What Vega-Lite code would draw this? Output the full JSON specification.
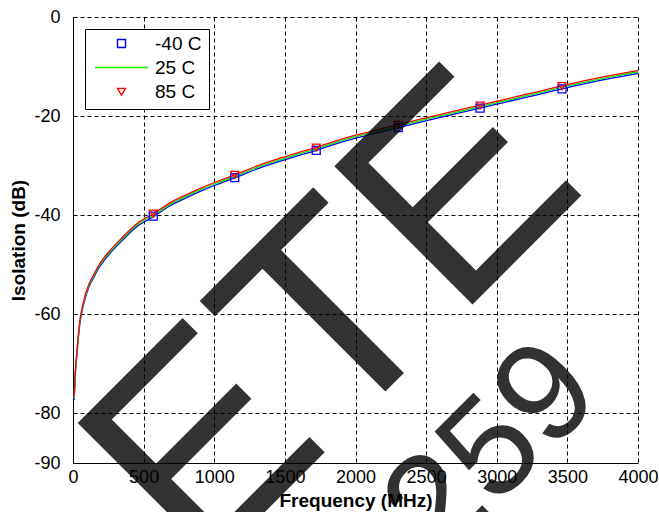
{
  "$schema": "https://vega.github.io/schema/vega-lite/v6.json",
  "width": 565,
  "height": 446,
  "autosize": {"type": "none"},
  "padding": {"left": 73, "top": 17, "right": 21, "bottom": 49},
  "background": "white",
  "config": {
    "view": {"stroke": null},
    "font": "Liberation Sans",
    "axis": {
      "domainColor": "black",
      "domainWidth": 1,
      "gridColor": "black",
      "gridDash": [4, 3],
      "gridWidth": 1,
      "gridOpacity": 1,
      "labelColor": "black",
      "labelFont": "Liberation Sans",
      "labelFontSize": 18,
      "labelFlush": false,
      "labelOverlap": false,
      "ticks": false,
      "titleColor": "black",
      "titleFont": "Liberation Sans",
      "titleFontSize": 19,
      "titleFontWeight": "bold"
    }
  },
  "datasets": {
    "curves": [
      {"f": 8, "dB": -77.3, "series": "-40 C"}, {"f": 12, "dB": -74.8, "series": "-40 C"}, {"f": 16, "dB": -72.3, "series": "-40 C"}, {"f": 20, "dB": -70.6, "series": "-40 C"}, {"f": 26, "dB": -68.6, "series": "-40 C"}, {"f": 35, "dB": -65.6, "series": "-40 C"}, {"f": 50, "dB": -61.6, "series": "-40 C"}, {"f": 70, "dB": -58.6, "series": "-40 C"}, {"f": 85, "dB": -56.9, "series": "-40 C"}, {"f": 110, "dB": -54.7, "series": "-40 C"}, {"f": 144, "dB": -52.7, "series": "-40 C"}, {"f": 191, "dB": -50.3, "series": "-40 C"}, {"f": 262, "dB": -47.7, "series": "-40 C"}, {"f": 345, "dB": -45.2, "series": "-40 C"}, {"f": 451, "dB": -42.3, "series": "-40 C"}, {"f": 569, "dB": -40.3, "series": "-40 C"}, {"f": 687, "dB": -38.1, "series": "-40 C"}, {"f": 800, "dB": -36.5, "series": "-40 C"}, {"f": 900, "dB": -35.2, "series": "-40 C"}, {"f": 1000, "dB": -34.0, "series": "-40 C"}, {"f": 1142, "dB": -32.5, "series": "-40 C"}, {"f": 1300, "dB": -30.7, "series": "-40 C"}, {"f": 1466, "dB": -29.1, "series": "-40 C"}, {"f": 1600, "dB": -27.9, "series": "-40 C"}, {"f": 1725, "dB": -26.9, "series": "-40 C"}, {"f": 1850, "dB": -25.7, "series": "-40 C"}, {"f": 2008, "dB": -24.4, "series": "-40 C"}, {"f": 2150, "dB": -23.4, "series": "-40 C"}, {"f": 2303, "dB": -22.3, "series": "-40 C"}, {"f": 2504, "dB": -20.9, "series": "-40 C"}, {"f": 2700, "dB": -19.6, "series": "-40 C"}, {"f": 2882, "dB": -18.4, "series": "-40 C"}, {"f": 3000, "dB": -17.6, "series": "-40 C"}, {"f": 3118, "dB": -16.8, "series": "-40 C"}, {"f": 3300, "dB": -15.6, "series": "-40 C"}, {"f": 3460, "dB": -14.5, "series": "-40 C"}, {"f": 3650, "dB": -13.3, "series": "-40 C"}, {"f": 3825, "dB": -12.3, "series": "-40 C"}, {"f": 4000, "dB": -11.4, "series": "-40 C"},
      {"f": 8, "dB": -77.0, "series": "25 C"}, {"f": 12, "dB": -74.5, "series": "25 C"}, {"f": 16, "dB": -72.0, "series": "25 C"}, {"f": 20, "dB": -70.3, "series": "25 C"}, {"f": 26, "dB": -68.3, "series": "25 C"}, {"f": 35, "dB": -65.3, "series": "25 C"}, {"f": 50, "dB": -61.3, "series": "25 C"}, {"f": 70, "dB": -58.3, "series": "25 C"}, {"f": 85, "dB": -56.6, "series": "25 C"}, {"f": 110, "dB": -54.4, "series": "25 C"}, {"f": 144, "dB": -52.4, "series": "25 C"}, {"f": 191, "dB": -50.0, "series": "25 C"}, {"f": 262, "dB": -47.4, "series": "25 C"}, {"f": 345, "dB": -44.9, "series": "25 C"}, {"f": 451, "dB": -42.0, "series": "25 C"}, {"f": 569, "dB": -40.0, "series": "25 C"}, {"f": 687, "dB": -37.8, "series": "25 C"}, {"f": 800, "dB": -36.2, "series": "25 C"}, {"f": 900, "dB": -34.9, "series": "25 C"}, {"f": 1000, "dB": -33.7, "series": "25 C"}, {"f": 1142, "dB": -32.2, "series": "25 C"}, {"f": 1300, "dB": -30.4, "series": "25 C"}, {"f": 1466, "dB": -28.8, "series": "25 C"}, {"f": 1600, "dB": -27.6, "series": "25 C"}, {"f": 1725, "dB": -26.6, "series": "25 C"}, {"f": 1850, "dB": -25.4, "series": "25 C"}, {"f": 2008, "dB": -24.1, "series": "25 C"}, {"f": 2150, "dB": -23.1, "series": "25 C"}, {"f": 2303, "dB": -22.0, "series": "25 C"}, {"f": 2504, "dB": -20.6, "series": "25 C"}, {"f": 2700, "dB": -19.3, "series": "25 C"}, {"f": 2882, "dB": -18.1, "series": "25 C"}, {"f": 3000, "dB": -17.3, "series": "25 C"}, {"f": 3118, "dB": -16.5, "series": "25 C"}, {"f": 3300, "dB": -15.3, "series": "25 C"}, {"f": 3460, "dB": -14.2, "series": "25 C"}, {"f": 3650, "dB": -13.0, "series": "25 C"}, {"f": 3825, "dB": -12.0, "series": "25 C"}, {"f": 4000, "dB": -11.1, "series": "25 C"},
      {"f": 8, "dB": -76.7, "series": "85 C"}, {"f": 12, "dB": -74.2, "series": "85 C"}, {"f": 16, "dB": -71.7, "series": "85 C"}, {"f": 20, "dB": -70.0, "series": "85 C"}, {"f": 26, "dB": -68.0, "series": "85 C"}, {"f": 35, "dB": -65.0, "series": "85 C"}, {"f": 50, "dB": -61.0, "series": "85 C"}, {"f": 70, "dB": -58.0, "series": "85 C"}, {"f": 85, "dB": -56.3, "series": "85 C"}, {"f": 110, "dB": -54.1, "series": "85 C"}, {"f": 144, "dB": -52.1, "series": "85 C"}, {"f": 191, "dB": -49.7, "series": "85 C"}, {"f": 262, "dB": -47.1, "series": "85 C"}, {"f": 345, "dB": -44.6, "series": "85 C"}, {"f": 451, "dB": -41.7, "series": "85 C"}, {"f": 569, "dB": -39.7, "series": "85 C"}, {"f": 687, "dB": -37.5, "series": "85 C"}, {"f": 800, "dB": -35.9, "series": "85 C"}, {"f": 900, "dB": -34.6, "series": "85 C"}, {"f": 1000, "dB": -33.4, "series": "85 C"}, {"f": 1142, "dB": -31.9, "series": "85 C"}, {"f": 1300, "dB": -30.1, "series": "85 C"}, {"f": 1466, "dB": -28.5, "series": "85 C"}, {"f": 1600, "dB": -27.3, "series": "85 C"}, {"f": 1725, "dB": -26.3, "series": "85 C"}, {"f": 1850, "dB": -25.1, "series": "85 C"}, {"f": 2008, "dB": -23.8, "series": "85 C"}, {"f": 2150, "dB": -22.8, "series": "85 C"}, {"f": 2303, "dB": -21.7, "series": "85 C"}, {"f": 2504, "dB": -20.3, "series": "85 C"}, {"f": 2700, "dB": -19.0, "series": "85 C"}, {"f": 2882, "dB": -17.8, "series": "85 C"}, {"f": 3000, "dB": -17.0, "series": "85 C"}, {"f": 3118, "dB": -16.2, "series": "85 C"}, {"f": 3300, "dB": -15.0, "series": "85 C"}, {"f": 3460, "dB": -13.9, "series": "85 C"}, {"f": 3650, "dB": -12.7, "series": "85 C"}, {"f": 3825, "dB": -11.7, "series": "85 C"}, {"f": 4000, "dB": -10.8, "series": "85 C"}
    ],
    "markers": [
      {"f": 568, "dB": -40.2, "series": "-40 C"}, {"f": 1145, "dB": -32.4, "series": "-40 C"}, {"f": 1722, "dB": -26.9, "series": "-40 C"}, {"f": 2303, "dB": -22.3, "series": "-40 C"}, {"f": 2882, "dB": -18.4, "series": "-40 C"}, {"f": 3462, "dB": -14.5, "series": "-40 C"},
      {"f": 568, "dB": -39.6, "series": "85 C"}, {"f": 1145, "dB": -31.8, "series": "85 C"}, {"f": 1722, "dB": -26.3, "series": "85 C"}, {"f": 2303, "dB": -21.7, "series": "85 C"}, {"f": 2882, "dB": -17.8, "series": "85 C"}, {"f": 3462, "dB": -13.9, "series": "85 C"}
    ],
    "watermark1": [{"f": 3660, "dB": -34.3, "txt": "OBSOLETE"}],
    "watermark2": [{"f": 3764, "dB": -76.8, "txt": "259"}]
  },
  "encoding": {
    "x": {
      "field": "f", "type": "quantitative",
      "scale": {"domain": [0, 4000], "nice": false, "zero": false},
      "axis": {"values": [0, 500, 1000, 1500, 2000, 2500, 3000, 3500, 4000], "format": "d", "title": "Frequency (MHz)", "labelPadding": 5, "titlePadding": 5, "grid": true}
    },
    "y": {
      "field": "dB", "type": "quantitative",
      "scale": {"domain": [-90, 0], "nice": false, "zero": false},
      "axis": {"values": [0, -20, -40, -60, -80, -90], "title": "Isolation (dB)", "labelPadding": 13, "titlePadding": 5, "grid": true, "labelExpr": "replace(datum.label, '\u2212', '-')"}
    }
  },
  "layer": [
    {
      "data": {"name": "curves"},
      "mark": {"type": "line", "strokeWidth": 1.3, "interpolate": "monotone"},
      "encoding": {
        "color": {
          "field": "series", "type": "nominal",
          "scale": {"domain": ["-40 C", "25 C", "85 C"], "range": ["#0000ff", "#00ee00", "#ff0000"]},
          "legend": {
            "title": null,
            "orient": "top-left",
            "offset": 12,
            "fillColor": "white",
            "strokeColor": "black",
            "padding": 7,
            "labelFont": "Liberation Sans",
            "labelFontSize": 19,
            "labelColor": "black",
            "labelOffset": 6,
            "symbolOffset": 2,
            "symbolSize": 2800,
            "symbolStrokeWidth": 1.4,
            "clipHeight": 15,
            "rowPadding": 4,
            "encode": {
              "symbols": {
                "update": {
                  "size": {"value": 2800},
                  "strokeWidth": {"value": 1.4},
                  "fill": {"value": "transparent"},
                  "opacity": {"value": 1}
                }
              }
            }
          }
        }
      }
    },
    {
      "data": {"name": "markers"},
      "mark": {"type": "point", "filled": false, "size": 2800, "strokeWidth": 1.3, "opacity": 1},
      "encoding": {
        "color": {"field": "series", "type": "nominal"},
        "shape": {
          "field": "series", "type": "nominal",
          "scale": {"domain": ["-40 C", "25 C", "85 C"], "range": ["M-0.151,-0.151L0.151,-0.151L0.151,0.151L-0.151,0.151Z", "M-1,0L1,0", "M-0.151,-0.12L0.151,-0.12L0,0.14Z"]},
          "legend": null
        }
      }
    },
    {
      "data": {"name": "watermark1"},
      "mark": {"type": "text", "angle": -45, "align": "right", "baseline": "alphabetic", "font": "Liberation Sans", "fontSize": 284, "color": "black", "opacity": 0.8},
      "encoding": {"text": {"field": "txt"}}
    },
    {
      "data": {"name": "watermark2"},
      "mark": {"type": "text", "angle": -45, "align": "right", "baseline": "alphabetic", "font": "Liberation Sans", "fontSize": 140, "color": "black", "opacity": 0.8},
      "encoding": {"text": {"field": "txt"}}
    }
  ]
}
